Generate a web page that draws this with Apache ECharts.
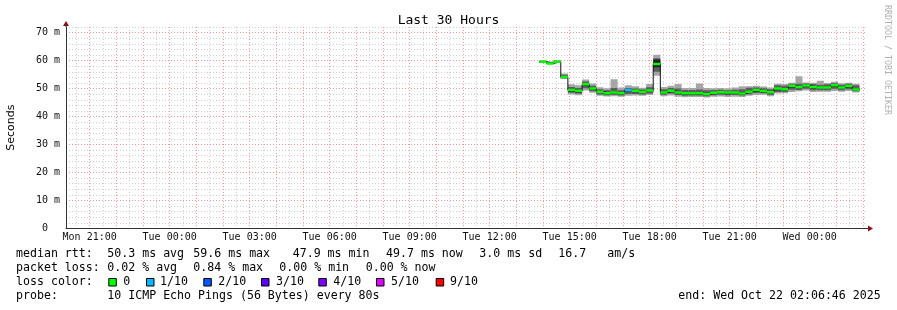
<!DOCTYPE html>
<html><head><meta charset="utf-8">
<script src="https://cdn.jsdelivr.net/npm/echarts@6/dist/echarts.min.js"></script>
<style>html,body{margin:0;padding:0;background:#fff}#c{width:897px;height:310px}</style>
</head><body><div id="c"></div>
<script>
// ---- data ----
const endTime = 'Wed 02:06:46';
const spanHours = 30;
const stepStarts = ['Tue 13:52','Tue 14:08','Tue 14:24','Tue 14:40','Tue 14:56','Tue 15:12','Tue 15:28','Tue 15:44','Tue 16:00','Tue 16:16','Tue 16:32','Tue 16:48','Tue 17:04','Tue 17:20','Tue 17:36','Tue 17:52','Tue 18:08','Tue 18:24','Tue 18:40','Tue 18:56','Tue 19:12','Tue 19:28','Tue 19:44','Tue 20:00','Tue 20:16','Tue 20:32','Tue 20:48','Tue 21:04','Tue 21:20','Tue 21:36','Tue 21:52','Tue 22:08','Tue 22:24','Tue 22:40','Tue 22:56','Tue 23:12','Tue 23:28','Tue 23:44','Wed 00:00','Wed 00:16','Wed 00:32','Wed 00:48','Wed 01:04','Wed 01:20','Wed 01:36'];
const lastStepEnd = 'Wed 01:52';
// median rtt (ms)
const median  = [59.6,59.0,59.6,54.1,49.5,49.2,51.5,50.0,48.9,48.3,48.6,48.3,49.5,49.2,48.9,49.3,58.8,48.6,49.2,48.6,48.3,48.3,48.3,48.0,48.5,48.7,48.6,48.6,48.2,48.9,49.5,49.1,48.7,50.0,49.8,51.0,50.6,51.1,50.6,50.4,50.4,51.2,50.4,50.9,49.7];
// smoke: lowest ping, low band, core low, core high, high band, highest ping (ms)
const pingMin = [59.2,58.7,59.2,53.4,47.9,47.6,49.3,48.5,47.4,47.2,47.3,47.1,47.4,47.5,47.4,47.7,54.6,47.3,47.5,47.1,46.9,47.0,47.0,46.8,47.1,47.2,47.0,47.1,47.0,47.4,47.7,47.8,47.3,48.2,48.3,48.8,49.0,49.3,48.8,48.9,48.9,49.1,48.9,49.1,48.6];
const pingLo  = [59.3,58.8,59.3,53.7,48.5,48.2,50.1,49.0,47.9,47.6,47.8,47.5,48.1,48.1,47.9,48.2,56.0,47.8,48.2,47.7,47.4,47.5,47.5,47.3,47.6,47.8,47.6,47.7,47.5,48.0,48.4,48.3,47.8,48.8,48.8,49.6,49.5,49.9,49.4,49.4,49.4,49.9,49.4,49.8,49.0];
const coreLo  = [59.4,58.8,59.4,53.8,48.9,48.6,50.9,49.5,48.4,47.8,48.1,47.8,49.0,48.7,48.4,48.8,57.6,48.1,48.7,48.1,47.8,47.8,47.8,47.5,48.0,48.2,48.0,48.1,47.7,48.4,48.9,48.6,48.2,49.4,49.3,50.4,50.1,50.6,50.0,49.9,49.9,50.6,49.9,50.4,49.3];
const coreHi  = [59.8,59.2,59.8,54.4,49.8,49.5,51.8,50.3,49.2,48.6,48.9,48.6,49.8,49.5,49.2,49.6,60.4,48.9,49.5,48.9,48.6,48.6,48.6,48.3,48.8,49.0,48.9,48.9,48.5,49.2,49.8,49.4,49.0,50.3,50.1,51.3,50.9,51.4,50.9,50.7,50.7,51.5,50.7,51.2,50.0];
const pingHi  = [59.9,59.4,59.9,54.9,50.6,50.2,52.5,51.0,49.8,49.4,50.2,49.4,50.2,50.0,49.7,50.5,60.8,49.8,50.2,50.0,49.5,49.5,49.7,49.4,49.5,49.6,49.4,49.6,49.8,50.3,50.4,50.1,49.8,51.2,51.0,51.7,51.7,51.8,51.6,51.4,51.5,51.9,51.4,51.7,51.2];
const pingMax = [60.0,59.7,60.1,55.4,51.5,51.2,53.2,51.8,50.5,50.1,53.3,50.4,51.2,50.8,50.3,51.6,62.1,50.6,51.0,51.6,50.2,50.2,51.8,50.2,50.1,50.2,50.1,50.4,50.8,50.8,51.0,50.7,50.4,51.7,51.6,52.1,54.4,52.2,52.1,52.8,52.0,52.4,51.9,52.1,51.7];
// loss bucket per step (index into lossLabels)
const stepLoss = [0,0,0,0,0,0,0,0,0,0,0,0,1,0,0,0,0,0,0,0,0,0,0,0,0,0,0,0,0,0,0,0,0,0,0,0,0,0,0,0,0,0,0,0,0];
const lossLabels = ['0','1/10','2/10','3/10','4/10','5/10','9/10'];
const lossColors = ['#00ff00','#00b8ff','#0059ff','#5e00ff','#7e00ff','#dd00ff','#ff0000'];
const xTickLabels = ['Mon 21:00','Tue 00:00','Tue 03:00','Tue 06:00','Tue 09:00','Tue 12:00','Tue 15:00','Tue 18:00','Tue 21:00','Wed 00:00'];
const yTickValues = [0,10,20,30,40,50,60,70];
const yTickLabels = ['0','10 m','20 m','30 m','40 m','50 m','60 m','70 m'];
const yMax = 72;
const statsLines = [
  ['median rtt:','50.3 ms avg','59.6 ms max','47.9 ms min','49.7 ms now','3.0 ms sd','16.7','am/s'],
  ['packet loss:','0.02 % avg','0.84 % max','0.00 % min','0.00 % now'],
  ['loss color:'],
  ['probe:','10 ICMP Echo Pings (56 Bytes) every 80s','end: Wed Oct 22 02:06:46 2025']
];

// ---- helpers ----
function toHours(s){
  const parts = s.split(' ');
  const dayOff = {Mon:0,Tue:24,Wed:48}[parts[0]];
  const t = parts[1].split(':').map(Number);
  return dayOff + t[0] + t[1]/60 + (t[2]||0)/3600;
}
const xMax = toHours(endTime);
const xMin = xMax - spanHours;
const starts = stepStarts.map(toHours);
const ends = starts.map((v,i)=> i<starts.length-1 ? starts[i+1] : toHours(lastStepEnd));
const xTickValues = xTickLabels.map(toHours);
const hourLines = [], halfLines = [];
for (let h = Math.ceil(xMin*2)/2; h <= xMax; h += 0.5) { (Math.abs(h-Math.round(h))<1e-6 ? hourLines : halfLines).push(h); }
const yMinor = [];
for (let v = 2; v <= yMax; v += 2) if (v % 10 !== 0) yMinor.push(v);

const smokeData = starts.map((s,i)=>[s, ends[i], pingMin[i], pingMax[i], pingLo[i], pingHi[i], coreLo[i], coreHi[i]]);
const medData = starts.map((s,i)=>[s, ends[i], median[i], stepLoss[i]]);
const lineData = starts.map((s,i)=>[s, median[i]]).concat([[ends[ends.length-1], median[median.length-1]]]);

const MONO = "'DejaVu Sans Mono', monospace";
const chart = echarts.init(document.getElementById('c'), null, {renderer:'canvas'});

const gridLeft = 66, gridTop = 27, gridBottom = 81.5, gridRight = 31;
const axisY = 310 - gridBottom, axisRight = 897 - gridRight;

const graphics = [];
// axis arrows
graphics.push({type:'polygon', shape:{points:[[gridLeft-3,gridTop-1],[gridLeft+3,gridTop-1],[gridLeft,gridTop-6]]}, style:{fill:'#8b1010'}, z:100});
graphics.push({type:'line', shape:{x1:gridLeft,y1:gridTop,x2:gridLeft,y2:gridTop-2}, style:{stroke:'#333',lineWidth:1}, z:100});
graphics.push({type:'polygon', shape:{points:[[axisRight+2,axisY-3],[axisRight+2,axisY+3],[axisRight+7,axisY]]}, style:{fill:'#8b1010'}, z:100});
graphics.push({type:'line', shape:{x1:axisRight,y1:axisY,x2:axisRight+2,y2:axisY}, style:{stroke:'#333',lineWidth:1}, z:100});
// vertical watermark
graphics.push({type:'text', x:891, y:5, rotation:-Math.PI/2, style:{text:'RRDTOOL / TOBI OETIKER', font:"8.3px "+MONO, fill:'#b0b0b0', textAlign:'left', textVerticalAlign:'top'}});
// stats text
const lineY = [254.3, 268.3, 282.3, 296.3];
const segX = [
  [16,107.3,193.3,292.7,386,479.3,558.3,607.3],
  [16,107.3,193.3,279.3,365.7],
  [16],
  [16,107.3,678.3]
];
statsLines.forEach((segs,li)=>{
  segs.forEach((txt,si)=>{
    graphics.push({type:'text', x:segX[li][si], y:lineY[li], style:{text:txt, font:"11.6px "+MONO, fill:'#000', textVerticalAlign:'middle'}});
  });
});
// loss color legend
const sqX = [108.3,146,203.3,261,318.3,376,435.7];
const lblX = [123.3,160,218.3,276,333.3,391,450];
lossLabels.forEach((lab,i)=>{
  graphics.push({type:'rect', shape:{x:sqX[i]+0.5, y:278.5, width:7.5, height:7.5}, style:{fill:lossColors[i], stroke:'#000', lineWidth:1}});
  graphics.push({type:'text', x:lblX[i], y:lineY[2], style:{text:lab, font:"11.6px "+MONO, fill:'#000', textVerticalAlign:'middle'}});
});

function hiddenAxis(extra){ return Object.assign({axisLine:{show:false}, axisTick:{show:false}, axisLabel:{show:false}}, extra); }

const option = {
  animation:false,
  backgroundColor:'#fff',
  title:{text:'Last 30 Hours', left:'center', top:9, textStyle:{fontFamily:MONO, fontSize:13, fontWeight:'normal', color:'#000'}},
  grid:{left:gridLeft, right:gridRight, top:gridTop, bottom:gridBottom, containLabel:false, outerBoundsMode:'none'},
  xAxis:[
    hiddenAxis({type:'value', min:xMin, max:xMax, axisTick:{show:false, customValues:halfLines}, splitLine:{show:true, lineStyle:{color:'#cfcfcf', type:[1,2], width:1}}}),
    hiddenAxis({type:'value', min:xMin, max:xMax, axisTick:{show:false, customValues:hourLines}, splitLine:{show:true, lineStyle:{color:'#f29a9a', type:[1,2], width:1}}}),
    {type:'value', min:xMin, max:xMax, position:'bottom',
     axisLine:{show:true, lineStyle:{color:'#333', width:1}},
     axisTick:{show:false, customValues:xTickValues},
     axisLabel:{show:true, customValues:xTickValues, margin:4, fontFamily:MONO, fontSize:10, color:'#111',
       formatter:(v)=>{ const i = xTickValues.findIndex(t=>Math.abs(t-v)<1e-6); return i>=0 ? xTickLabels[i] : ''; }},
     splitLine:{show:false}}
  ],
  yAxis:[
    hiddenAxis({type:'value', min:0, max:yMax, axisTick:{show:false, customValues:yMinor}, splitLine:{show:true, lineStyle:{color:'#cfcfcf', type:[1,2], width:1}}}),
    {type:'value', min:0, max:yMax, position:'left',
     name:'Seconds', nameLocation:'middle', nameGap:49, nameRotate:90,
     nameTextStyle:{fontFamily:"'DejaVu Sans', sans-serif", fontSize:11, color:'#000'},
     axisLine:{show:true, lineStyle:{color:'#333', width:1}},
     axisTick:{show:false, customValues:yTickValues},
     axisLabel:{show:true, customValues:yTickValues, margin:6, fontFamily:MONO, fontSize:10, color:'#111',
       formatter:(v)=>{ const i = yTickValues.indexOf(Math.round(v)); return i===0 ? '\u00a00\u00a0\u00a0' : (i>0 ? yTickLabels[i] : ''); }},
     splitLine:{show:true, lineStyle:{color:'#f29a9a', type:[1,2], width:1}}}
  ],
  series:[
    {type:'custom', name:'smoke', xAxisIndex:2, yAxisIndex:1, clip:true, data:smokeData, z:2,
     renderItem:(params, api)=>{
       const t0 = api.value(0), t1 = api.value(1);
       const colors = ['#a6a6a6','#5e5e5e','#222222'];
       const children = [];
       for (let j=0;j<3;j++){
         const p0 = api.coord([t0, api.value(3+2*j)]), p1 = api.coord([t1, api.value(2+2*j)]);
         children.push({type:'rect', shape:{x:p0[0], y:p0[1], width:p1[0]-p0[0], height:p1[1]-p0[1]}, style:{fill:colors[j]}});
       }
       return {type:'group', children};
     }},
    {type:'line', name:'median', xAxisIndex:2, yAxisIndex:1, step:'end', data:lineData, showSymbol:false, symbol:'none', z:3,
     lineStyle:{color:'#111', width:1}},
    {type:'custom', name:'median loss', xAxisIndex:2, yAxisIndex:1, clip:true, data:medData, z:4,
     renderItem:(params, api)=>{
       const p0 = api.coord([api.value(0), api.value(2)]), p1 = api.coord([api.value(1), api.value(2)]);
       return {type:'rect', shape:{x:p0[0], y:p0[1]-1.25, width:p1[0]-p0[0], height:2.5}, style:{fill:lossColors[api.value(3)]}};
     }}
  ],
  graphic:graphics
};
chart.setOption(option);
</script>
</body></html>
